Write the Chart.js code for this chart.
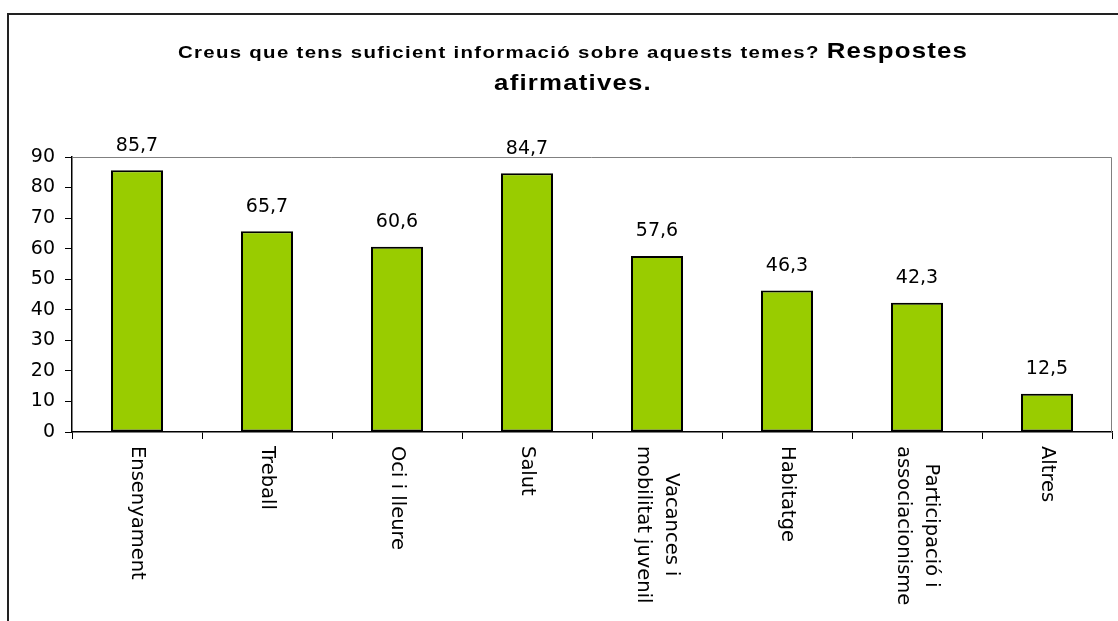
<!DOCTYPE html>
<html>
<head>
<meta charset="utf-8">
<script src="https://cdn.jsdelivr.net/npm/chart.js@4/dist/chart.umd.min.js"></script>
<style>
  html, body { margin: 0; padding: 0; background: #fff; }
  #wrap { position: relative; width: 1118px; height: 621px; overflow: hidden; }
  canvas { position: absolute; left: 0; top: 0; }
  #title { position: absolute; left: 0; width: 1146px; top: 36px; text-align: center;
           font-family: "Liberation Sans", Arial, sans-serif; font-weight: bold; color: #000; line-height: 30px;
           transform: scaleX(1.2); transform-origin: 573px 0; }
  #title .a { font-size: 17px; letter-spacing: 1.1px; }
  #title .b { font-size: 21.5px; letter-spacing: 1px; }
</style>
</head>
<body>
<div id="wrap">
  <canvas id="c" width="1118" height="621"></canvas>
  <div id="title"><span class="a">Creus que tens suficient informació sobre aquests temes? </span><span class="b">Respostes<br>afirmatives.</span></div>
</div>
<script>
const categories = [
  ["Ensenyament"],
  ["Treball"],
  ["Oci i lleure"],
  ["Salut"],
  ["Vacances i", "mobilitat juvenil"],
  ["Habitatge"],
  ["Participació i", "associacionisme"],
  ["Altres"]
];
const values = [85.7, 65.7, 60.6, 84.7, 57.6, 46.3, 42.3, 12.5];
const yMin = 0;
const yMax = 90;
const yStep = 10;

const FONT = '"DejaVu Sans", sans-serif';

const decorPlugin = {
  id: 'decor',
  afterDraw(chart) {
    const ctx = chart.ctx;
    const ca = chart.chartArea;
    const xs = chart.scales.x;
    ctx.save();
    // gray plot border top/right
    ctx.strokeStyle = '#808080';
    ctx.lineWidth = 1;
    ctx.beginPath();
    ctx.moveTo(ca.left, ca.top + 0.5);
    ctx.lineTo(ca.right - 0.5, ca.top + 0.5);
    ctx.lineTo(ca.right - 0.5, ca.bottom);
    ctx.stroke();
    // outer frame (top + left)
    ctx.strokeStyle = '#222';
    ctx.lineWidth = 2;
    ctx.beginPath();
    ctx.moveTo(1118, 14);
    ctx.lineTo(8, 14);
    ctx.lineTo(8, 621);
    ctx.stroke();
    // data labels
    const meta = chart.getDatasetMeta(0);
    ctx.fillStyle = '#000';
    ctx.font = '19px ' + FONT;
    ctx.textAlign = 'center';
    ctx.textBaseline = 'middle';
    meta.data.forEach((bar, i) => {
      const txt = values[i].toFixed(1).replace('.', ',');
      ctx.fillText(txt, bar.x, bar.y - 24.5);
    });
    // category labels rotated clockwise
    ctx.font = '19.5px ' + FONT;
    categories.forEach((lines, i) => {
      const x = xs.getPixelForValue(i);
      const maxW = Math.max(...lines.map(l => ctx.measureText(l).width));
      const L = 28;
      ctx.save();
      ctx.translate(x, ca.bottom + 14);
      ctx.rotate(Math.PI / 2);
      ctx.textAlign = 'center';
      ctx.textBaseline = 'middle';
      lines.forEach((l, k) => {
        const off = (k - (lines.length - 1) / 2) * L;
        ctx.fillText(l, maxW / 2, off);
      });
      ctx.restore();
    });
    ctx.restore();
  }
};

new Chart(document.getElementById('c'), {
  type: 'bar',
  data: {
    labels: categories,
    datasets: [{
      data: values,
      backgroundColor: '#99CC00',
      borderColor: '#000',
      borderWidth: 2,
      borderSkipped: false,
      barPercentage: 0.4,
      categoryPercentage: 1.0
    }]
  },
  options: {
    responsive: false,
    animation: false,
    devicePixelRatio: 1,
    layout: { padding: { left: 0, right: 6, top: 157, bottom: 0 } },
    plugins: {
      legend: { display: false },
      title: { display: false },
      tooltip: { enabled: false }
    },
    scales: {
      x: {
        type: 'category',
        offset: true,
        grid: { offset: true, drawOnChartArea: false, drawTicks: true, tickLength: 7, color: '#000', lineWidth: 1 },
        border: { color: '#000', width: 1.5 },
        ticks: { display: false },
        afterFit(scale) { scale.height = 189; }
      },
      y: {
        min: yMin,
        max: yMax,
        grid: { drawOnChartArea: false, drawTicks: true, tickLength: 7, color: '#000', lineWidth: 1 },
        border: { color: '#000', width: 1.5 },
        ticks: { stepSize: yStep, color: '#000', font: { family: FONT, size: 19 }, padding: 10 },
        afterFit(scale) { scale.width = 72; }
      }
    }
  },
  plugins: [decorPlugin]
});
</script>
</body>
</html>
